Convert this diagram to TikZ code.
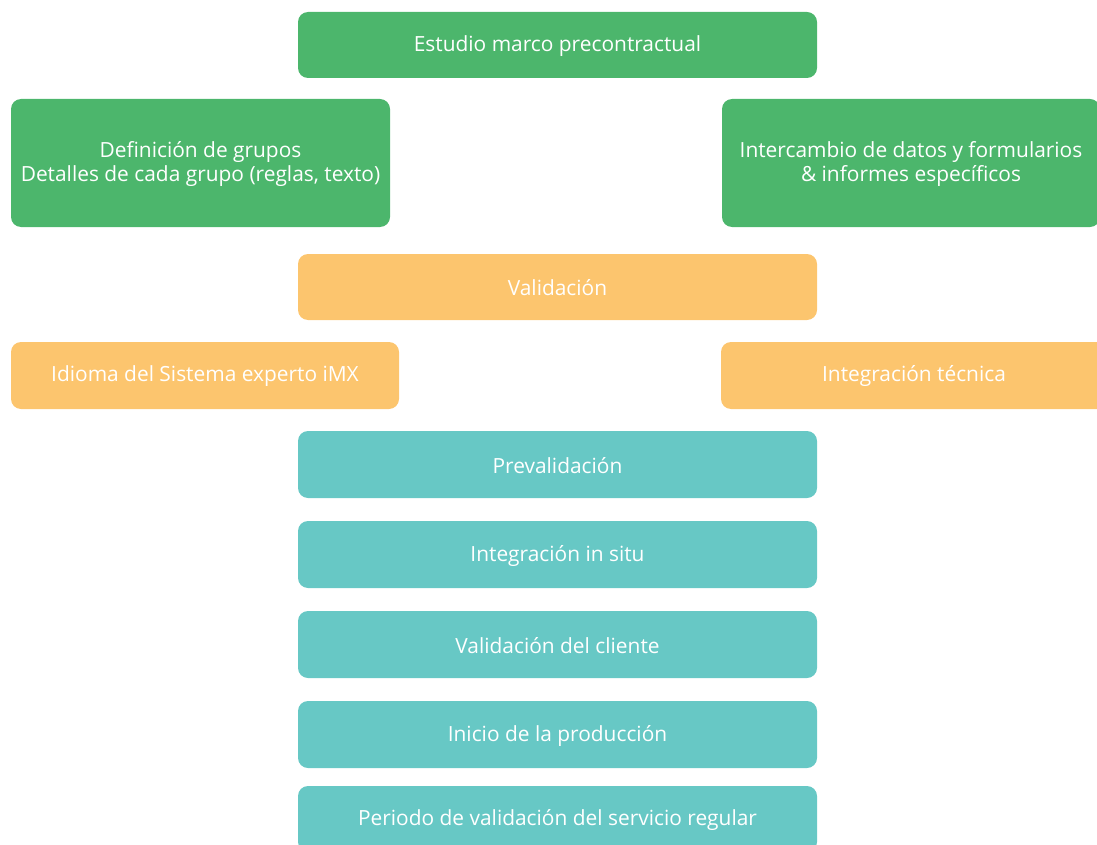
\documentclass[tikz,border=0pt]{standalone}
\usepackage{fontspec}
\setmainfont{Open Sans}
\definecolor{cgreen}{HTML}{4CB66C}
\definecolor{corange}{HTML}{FCC56E}
\definecolor{cteal}{HTML}{67C8C5}
\begin{document}
\begin{tikzpicture}[x=1pt,y=-1pt,
  lbl/.style={inner sep=0pt, text=white, align=center, yshift=-1pt,
    font=\fontsize{20.9}{24}\selectfont},
  box/.style={rounded corners=10pt, inner sep=0pt, label={[lbl]center:{#1}}},
  gbox/.style={box={#1}, fill=cgreen},
  obox/.style={box={#1}, fill=corange},
  tbox/.style={box={#1}, fill=cteal}]
\useasboundingbox (0,0) rectangle (1097,845);
\clip (0,0) rectangle (1097,845);
\node[gbox={Estudio marco precontractual}, minimum width=519pt, minimum height=66pt] (estudio) at (557.5,45) {};
\node[gbox={{Definición de grupos\\Detalles de cada grupo (reglas, texto)}}, minimum width=379pt, minimum height=128pt] (definicion) at (200.5,163) {};
\node[gbox={Intercambio de datos y formularios\\\& informes específicos}, minimum width=378pt, minimum height=128pt] (intercambio) at (911,163) {};
\node[obox={Validación}, minimum width=519pt, minimum height=66pt] (validacion) at (557.5,287) {};
\node[obox={Idioma del Sistema experto iMX}, minimum width=388pt, minimum height=67pt] (idioma) at (205,375.5) {};
\node[obox={Integración técnica}, minimum width=386pt, minimum height=67pt] (integtec) at (914,375.5) {};
\node[tbox={Prevalidación}, minimum width=519pt, minimum height=67pt] (prevalidacion) at (557.5,464.5) {};
\node[tbox={Integración in situ}, minimum width=519pt, minimum height=67pt] (insitu) at (557.5,554.5) {};
\node[tbox={Validación del cliente}, minimum width=519pt, minimum height=67pt] (cliente) at (557.5,644.5) {};
\node[tbox={Inicio de la producción}, minimum width=519pt, minimum height=67pt] (inicio) at (557.5,734.5) {};
\node[tbox={Periodo de validación del servicio regular}, minimum width=519pt, minimum height=66pt] (periodo) at (557.5,819) {};
\end{tikzpicture}
\end{document}
